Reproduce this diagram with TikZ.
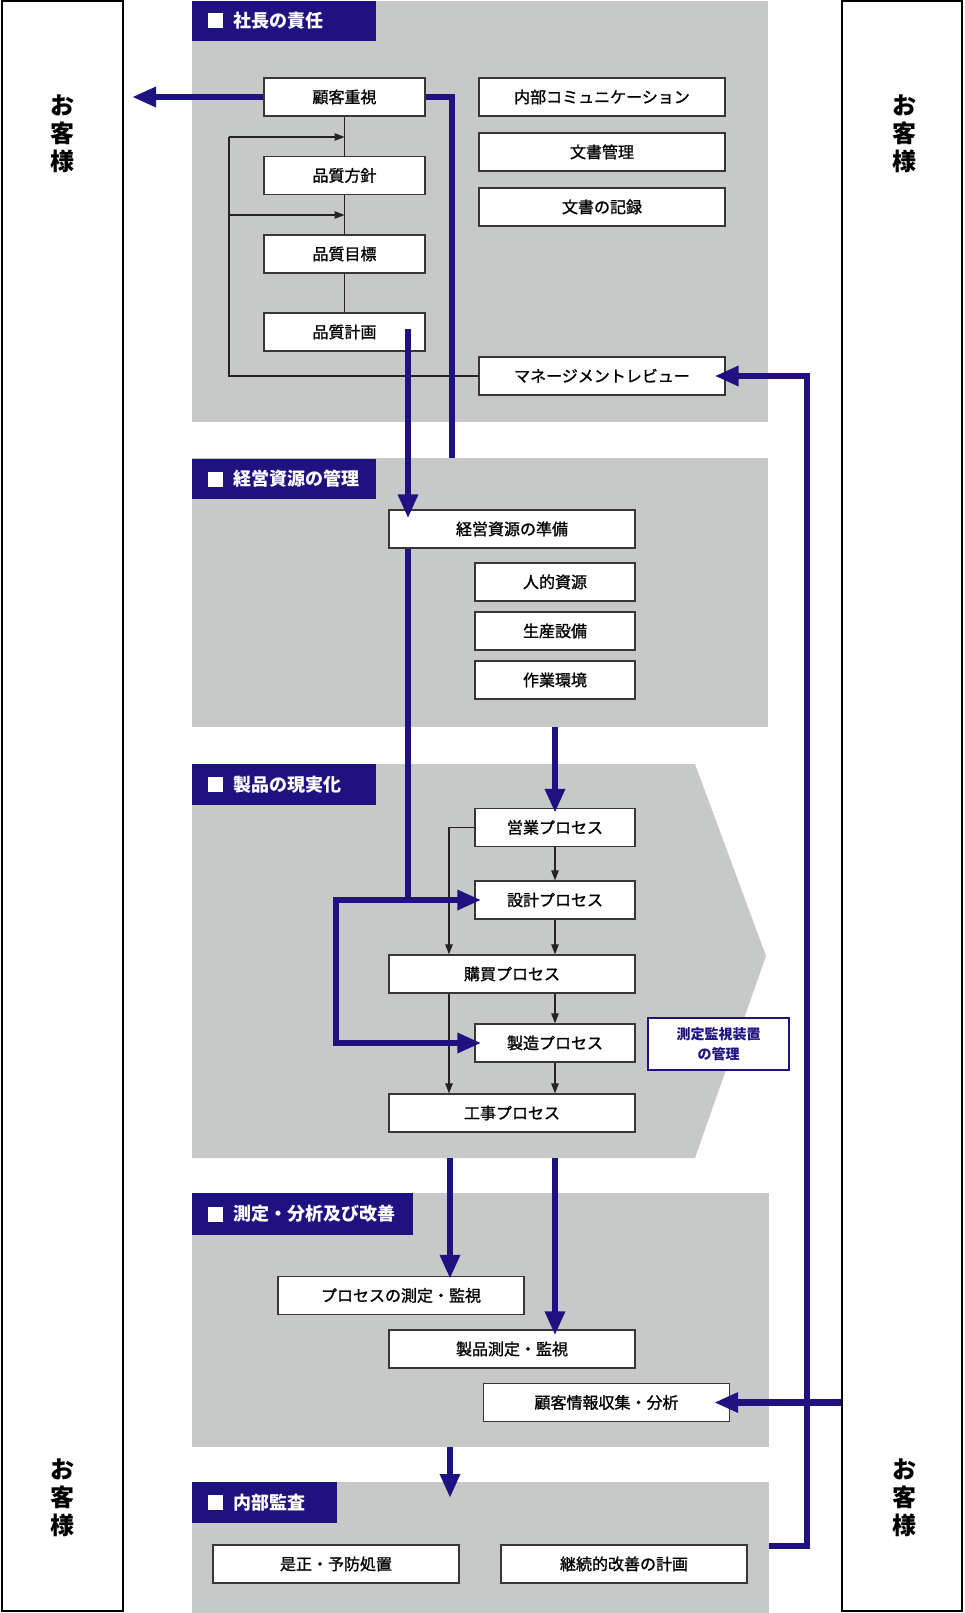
\documentclass[tikz,border=0pt]{standalone}
\usepackage{fontspec}
\setmainfont{Noto Sans CJK JP}
\newfontfamily\boxfont[FakeBold=1.2]{Noto Sans CJK JP}
\usetikzlibrary{arrows.meta,calc}
\definecolor{navy}{RGB}{32,17,128}
\definecolor{secgray}{RGB}{199,200,200}
\definecolor{bordergray}{RGB}{55,55,55}
\definecolor{thincol}{RGB}{35,35,35}
\tikzset{
  box/.style={draw=bordergray, line width=1.3pt, fill=white, inner sep=0pt,
    minimum height=38pt, text height=13.5pt, text depth=1.5pt,
    font=\boxfont\fontsize{16}{18}\selectfont},
  wbox/.style={box, minimum width=246pt},
  nbox/.style={box, minimum width=161pt},
  big/.style={draw=navy, line width=6.5pt},
  bigarrow/.style={big, -{Triangle[length=24pt,width=19pt]}},
  thinline/.style={draw=thincol, line width=1.1pt},
  thinarrow/.style={thinline, -{Triangle[length=10pt,width=7.5pt]}},
  htext/.style={text=white, font=\bfseries\fontsize{18}{20}\selectfont, anchor=west, inner sep=0pt},
  cust/.style={draw=black, line width=2pt, fill=white, inner sep=0pt},
  custtext/.style={font=\bfseries\fontsize{24}{28}\selectfont, align=center, inner sep=0pt},
}
\newcommand{\mkheader}[5]{%
  \fill[navy] (192,#3) rectangle (#2,#4);
  \fill[white] (208,{(#3+#4)/2-7.5}) rectangle (223,{(#3+#4)/2+7.5});
  \node[htext] (#1) at (233,{(#3+#4)/2}) {#5};
}
\begin{document}
\begin{tikzpicture}[x=1pt,y=-1pt]
\useasboundingbox (0,0) rectangle (964,1613);

% customer columns
\node[cust, minimum width=121pt, minimum height=1609pt] (lbox) at (62,806) {};
\node[cust, minimum width=120pt, minimum height=1609pt] (rbox) at (902,806) {};
\node[custtext] (lc1) at (62,134) {お\\客\\様};
\node[custtext] (lc2) at (62,1498) {お\\客\\様};
\node[custtext] (rc1) at (904,134) {お\\客\\様};
\node[custtext] (rc2) at (904,1498) {お\\客\\様};

% sections
\fill[secgray] (192,1) rectangle (768,422);
\fill[secgray] (192,458) rectangle (768,727);
\fill[secgray] (192,764) -- (695,764) -- (766,956) -- (695,1158) -- (192,1158) -- cycle;
\fill[secgray] (192,1193) rectangle (769,1447);
\fill[secgray] (192,1482) rectangle (769,1613);

\mkheader{h1}{376}{1}{41}{社長の責任}
\mkheader{h2}{376}{459}{499}{経営資源の管理}
\mkheader{h3}{376}{764}{805}{製品の現実化}
\mkheader{h4}{413}{1193}{1235}{測定・分析及び改善}
\mkheader{h5}{337}{1482}{1523}{内部監査}

% section 1 boxes
\node[nbox] (kj) at (344.5,97) {顧客重視};
\node[nbox] (hh) at (344.5,175.5) {品質方針};
\node[nbox] (hm) at (344.5,254) {品質目標};
\node[nbox] (hk) at (344.5,332) {品質計画};
\node[wbox] (nc) at (602,97) {内部コミュニケーション};
\node[wbox] (bk) at (602,152) {文書管理};
\node[wbox] (bkr) at (602,207) {文書の記録};
\node[wbox] (mr) at (602,376) {マネージメントレビュー};

% section 1 thin connectors
\coordinate (ta) at (229,137);
\coordinate (tb) at (229,215);
\draw[thinline] (kj.south) -- (hh.north);
\draw[thinline] (hh.south) -- (hm.north);
\draw[thinline] (hm.south) -- (hk.north);
\draw[thinarrow] (ta) -- (ta -| kj.south);
\draw[thinarrow] (tb) -- (tb -| kj.south);
\draw[thinline] (ta) |- (mr.west);

% section 2 boxes
\node[wbox] (kjun) at (512,529) {経営資源の準備};
\node[box, minimum width=160pt] (js) at (555,582) {人的資源};
\node[box, minimum width=160pt] (ss) at (555,631) {生産設備};
\node[box, minimum width=160pt] (sk2) at (555,680) {作業環境};

% section 3 boxes
\node[box, minimum width=160pt] (eg) at (555,827.5) {営業プロセス};
\node[box, minimum width=160pt] (sk) at (555,900) {設計プロセス};
\node[wbox] (kb) at (512,974) {購買プロセス};
\node[box, minimum width=160pt] (sz) at (555,1043) {製造プロセス};
\node[wbox] (kz) at (512,1113) {工事プロセス};
\node[draw=navy, line width=2.3pt, fill=white, minimum width=141pt, minimum height=52pt,
  inner sep=0pt, align=center, text=navy, font=\bfseries\fontsize{14}{19.5}\selectfont]
  (sokutei) at (718.5,1044) {測定監視装置\\の管理};

% section 3 thin connectors
\coordinate (tcol) at (449,827.5);
\draw[thinarrow] (eg.south) -- (sk.north);
\draw[thinarrow] (sk.south) -- (sk.south |- kb.north);
\draw[thinarrow] (sk.south |- kb.south) -- (sz.north);
\draw[thinarrow] (sz.south) -- (sz.south |- kz.north);
\draw[thinarrow] (eg.west) -- (tcol) -- (tcol |- kb.north);
\draw[thinarrow] (tcol |- kb.south) -- (tcol |- kz.north);

% section 4 boxes
\node[wbox] (pm) at (401,1295.5) {プロセスの測定・監視};
\node[wbox] (sm) at (512,1349) {製品測定・監視};
\node[wbox] (kjs) at (606.5,1402.5) {顧客情報収集・分析};

% section 5 boxes
\node[wbox] (zy) at (336,1564) {是正・予防処置};
\node[wbox] (kks) at (624,1564) {継続的改善の計画};

% blue connectors
\coordinate (c1) at (132,97);
\coordinate (c2) at (452,458);
\coordinate (p1) at (408,329);
\coordinate (p2) at (p1 |- sk.west);
\coordinate (p3) at (336,900);
\coordinate (s2a) at (555,727);
\coordinate (s3a) at (450,1158);
\coordinate (s3b) at (555,1158);
\coordinate (s4a) at (450,1447);
\coordinate (s5a) at (450,1498);
\coordinate (c5) at (769,1546);
\coordinate (c6) at (807,376);

\draw[bigarrow] (kj.west) -- (c1);
\draw[big] (kj.east) -| (c2);
\draw[bigarrow] (p1) -- ($(p1 |- kjun.north)+(0,9)$);
\draw[bigarrow] (kjun.south -| p1) -- (p2) -- ($(sk.west)+(7,0)$);
\draw[bigarrow] (p2) -- (p3) |- ($(sz.west)+(7,0)$);
\draw[bigarrow] (s2a) -- ($(s2a |- eg.north)+(0,5)$);
\draw[bigarrow] (s3a) -- ($(s3a |- pm.north)+(0,3)$);
\draw[bigarrow] (s3b) -- ($(s3b |- sm.north)+(0,6)$);
\draw[bigarrow] (s4a) -- (s5a);
\draw[bigarrow] (c5) -| (c6) -- ($(mr.east)+(-11,0)$);
\draw[bigarrow] (rbox.west |- kjs.east) -- ($(kjs.east)+(-16,0)$);
\end{tikzpicture}
\end{document}
